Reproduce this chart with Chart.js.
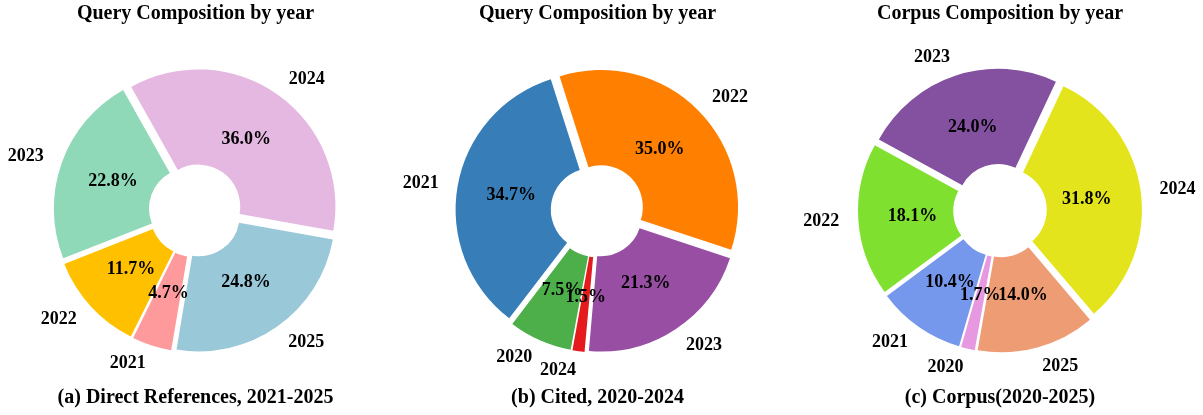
<!DOCTYPE html>
<html>
<head>
<meta charset="utf-8">
<script src="https://cdn.jsdelivr.net/npm/chart.js@4.4.1/dist/chart.umd.min.js"></script>
<style>
  body { margin: 0; background: #fff; }
  .row { display: flex; width: 1203px; height: 415px; }
  canvas { display: block; }
</style>
</head>
<body>
<div class="row">
  <canvas id="pieA" width="401" height="415"></canvas>
  <canvas id="pieB" width="401" height="415"></canvas>
  <canvas id="pieC" width="401" height="415"></canvas>
</div>
<script>
// (a) direct references
const yearsA = ["2021", "2022", "2023", "2024", "2025"];
const shareA = [4.7, 11.7, 22.8, 36.0, 24.8];
const colorsA = ["#ff9a9c", "#ffc000", "#8fd9b8", "#e5b8e2", "#99c8d8"];

// (b) cited
const yearsB = ["2024", "2020", "2021", "2022", "2023"];
const shareB = [1.5, 7.5, 34.7, 35.0, 21.3];
const colorsB = ["#e41a1c", "#4daf4a", "#377eb8", "#ff7f00", "#984ea3"];

// (c) corpus
const yearsC = ["2020", "2021", "2022", "2023", "2024", "2025"];
const shareC = [1.7, 10.4, 18.1, 24.0, 31.8, 14.0];
const colorsC = ["#e699e0", "#7597ec", "#80e030", "#8450a0", "#e3e41b", "#ee9c74"];

const FONT = "'Liberation Serif', 'Times New Roman', serif";
const EXPLODE = 6; // px each wedge is pushed out

// Chart.js moves an arc by offset/4 * (1 + fix), fix depending on the arc size;
// pick the offset so every wedge moves the same distance
function explodeOffset(ctx) {
  const data = ctx.dataset.data;
  const total = data.reduce((a, b) => a + b, 0);
  const circ = data[ctx.dataIndex] / total * Math.PI * 2;
  const fix = 1 - Math.sin(Math.min(Math.PI, circ));
  return EXPLODE * 4 / (1 + fix);
}

// draws year labels outside and percentages inside each wedge
const sliceLabels = {
  id: "sliceLabels",
  afterDatasetsDraw(chart) {
    const ctx = chart.ctx;
    const meta = chart.getDatasetMeta(0);
    const values = chart.data.datasets[0].data;
    ctx.save();
    ctx.fillStyle = "#000";
    ctx.font = "bold 18px " + FONT;
    ctx.textBaseline = "middle";
    meta.data.forEach((arc, i) => {
      const p = arc.getProps(["x", "y", "startAngle", "endAngle", "outerRadius"], true);
      const mid = (p.startAngle + p.endAngle) / 2;
      const c = Math.cos(mid), s = Math.sin(mid);
      // percentage
      const rp = EXPLODE + 0.6 * p.outerRadius;
      ctx.textAlign = "center";
      ctx.fillText(values[i].toFixed(1) + "%", p.x + c * rp, p.y + s * rp);
      // year
      const rl = EXPLODE + 1.14 * p.outerRadius;
      ctx.textAlign = c >= 0 ? "left" : "right";
      ctx.fillText(chart.data.labels[i], p.x + c * rl, p.y + s * rl);
    });
    ctx.restore();
  }
};

function makePie(id, title, caption, labels, values, colors, rotation, padRight) {
  return new Chart(document.getElementById(id), {
    type: "doughnut",
    data: {
      labels: labels,
      datasets: [{
        data: values,
        backgroundColor: colors,
        borderWidth: 0,
        offset: explodeOffset,
        hoverOffset: 0
      }]
    },
    options: {
      responsive: false,
      animation: false,
      rotation: rotation,
      radius: 136,
      cutout: "30%",
      layout: { padding: { left: 0, right: padRight, top: 0, bottom: 0 } },
      plugins: {
        legend: { display: false },
        tooltip: { enabled: false },
        title: {
          display: true,
          text: title,
          color: "#000",
          font: { family: FONT, size: 20, weight: "bold" },
          padding: { top: 2, bottom: 9 }
        },
        subtitle: {
          display: true,
          position: "bottom",
          text: caption,
          color: "#000",
          font: { family: FONT, size: 20, weight: "bold" },
          padding: { top: 0, bottom: 5 }
        }
      }
    },
    plugins: [sliceLabels]
  });
}

makePie("pieA", "Query Composition by year", "(a) Direct References, 2021-2025",
  yearsA, shareA, colorsA, 189.5, 10);
makePie("pieB", "Query Composition by year", "(b) Cited, 2020-2024",
  yearsB, shareB, colorsB, 185, 8);
makePie("pieC", "Corpus Composition by year", "(c) Corpus(2020-2025)",
  yearsC, shareC, colorsC, 190, 5);
</script>
</body>
</html>
